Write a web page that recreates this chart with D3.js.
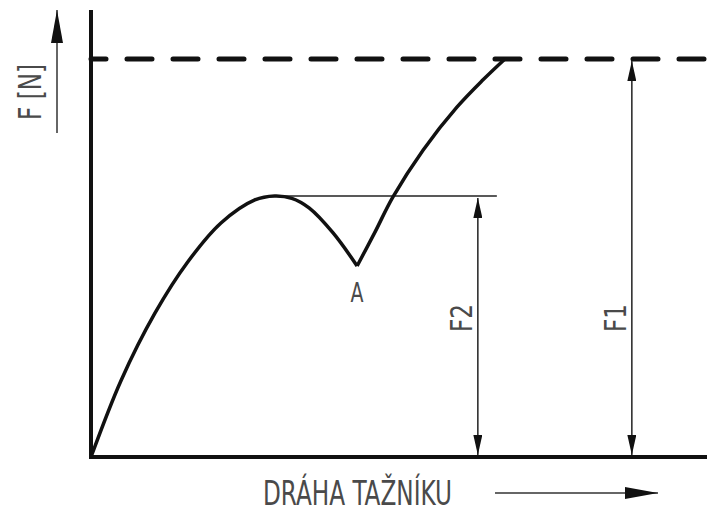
<body style="margin:0;background:#fff"></body>

<script type='text/javascript' src='https://d3js.org/d3.v7.min.js'></script>
<script>
    var width = 707, height = 514;

    // curve: displacement (0..100) vs force (F1 = 100)
    var riseX = [0, 4.9, 10.4, 15.7, 21.1, 26.6, 29.8, 32.6, 35.4, 39.3, 43.2];
    var riseF = [0, 19.3, 36.2, 49.0, 58.8, 64.6, 65.6, 65.0, 62.6, 56.3, 48.0];
    var climbX = [43.2, 46.1, 49.0, 53.9, 59.4, 63.6, 67.2];
    var climbF = [48.0, 56.5, 65.3, 77.1, 87.9, 94.7, 100];

    // force levels and where their dimension lines stand
    var levelNames = ["F2", "F1"];
    var levelF = [65.6, 100];
    var levelX = [62.8, 87.8];
    var peakX = 29.8;
    var pointA = {name: "A", x: 43.2, f: 48.0};
    var xTitle = "DRÁHA TAŽNÍKU";
    var yTitle = "F [N]";

    var x = d3.scaleLinear().domain([0, 100]).range([91, 707]);
    var y = d3.scaleLinear().domain([0, 100]).range([457, 59]);

    var svg = d3.select('body').append('svg').attr('width', width).attr('height', height);
    var font = "'DejaVu Sans Condensed', 'DejaVu Sans', sans-serif";

    // arrowheads
    var defs = svg.append('defs');
    function marker(id, w, h) {
        defs.append('marker').attr('id', id)
            .attr('viewBox', '0 0 ' + w + ' ' + h)
            .attr('refX', w).attr('refY', h / 2)
            .attr('markerWidth', w).attr('markerHeight', h)
            .attr('markerUnits', 'userSpaceOnUse')
            .attr('orient', 'auto-start-reverse')
            .append('path')
            .attr('d', 'M0,0L' + w + ',' + (h / 2) + 'L0,' + h + 'Z')
            .attr('fill', '#111');
    }
    marker('dim', 20, 9);
    marker('big', 33, 12);

    // axes (no ticks, plain thick lines)
    svg.append('line')
        .attr('x1', x(0)).attr('x2', x(0)).attr('y1', 10).attr('y2', y(0) + 2)
        .attr('stroke', '#111').attr('stroke-width', 4);
    svg.append('line')
        .attr('x1', x(0) - 2).attr('x2', x(100)).attr('y1', y(0)).attr('y2', y(0))
        .attr('stroke', '#111').attr('stroke-width', 4);

    // dashed F1 limit
    svg.append('line')
        .attr('x1', x(0)).attr('x2', x(100)).attr('y1', y(100)).attr('y2', y(100))
        .attr('stroke', '#111').attr('stroke-width', 5)
        .attr('stroke-linecap', 'round')
        .attr('stroke-dasharray', '25,21').attr('stroke-dashoffset', 10);

    // F2 extension line from the peak
    svg.append('line')
        .attr('x1', x(peakX)).attr('x2', x(levelX[0]) + 19).attr('y1', y(levelF[0])).attr('y2', y(levelF[0]))
        .attr('stroke', '#222').attr('stroke-width', 1.5);

    // dimension lines with arrows at both ends
    svg.selectAll('.dim').data(levelNames).join('line').attr('class', 'dim')
        .attr('x1', function (d, i) { return x(levelX[i]); })
        .attr('x2', function (d, i) { return x(levelX[i]); })
        .attr('y1', function (d, i) { return y(levelF[i]) + 2; })
        .attr('y2', y(0) - 2)
        .attr('stroke', '#222').attr('stroke-width', 1.5)
        .attr('marker-start', 'url(#dim)').attr('marker-end', 'url(#dim)');

    svg.selectAll('.dimlabel').data(levelNames).join('text').attr('class', 'dimlabel')
        .attr('transform', function (d, i) { return 'translate(' + (x(levelX[i]) - 6) + ',' + 318 + ') rotate(-90)'; })
        .attr('text-anchor', 'middle')
        .attr('font-family', font).attr('font-size', 30)
        .attr('textLength', 28).attr('lengthAdjust', 'spacingAndGlyphs')
        .attr('fill', '#4a4a4a')
        .text(function (d) { return d; });

    // the curve, two branches meeting in the sharp point A
    var line = d3.line()
        .x(function (d) { return x(d[0]); })
        .y(function (d) { return y(d[1]); })
        .curve(d3.curveCatmullRom.alpha(0.5));
    svg.append('path').datum(d3.zip(riseX, riseF))
        .attr('d', line).attr('fill', 'none').attr('stroke', '#111').attr('stroke-width', 3.5)
        .attr('stroke-linejoin', 'round');
    svg.append('path').datum(d3.zip(climbX, climbF))
        .attr('d', line).attr('fill', 'none').attr('stroke', '#111').attr('stroke-width', 3.5)
        .attr('stroke-linejoin', 'round');

    svg.append('text')
        .attr('x', x(pointA.x)).attr('y', y(pointA.f) + 36)
        .attr('text-anchor', 'middle')
        .attr('font-family', font).attr('font-size', 27)
        .attr('textLength', 13).attr('lengthAdjust', 'spacingAndGlyphs')
        .attr('fill', '#4a4a4a')
        .text(pointA.name);

    // y title with arrow
    svg.append('line')
        .attr('x1', 57).attr('x2', 57).attr('y1', 133).attr('y2', 10)
        .attr('stroke', '#333').attr('stroke-width', 1.5)
        .attr('marker-end', 'url(#big)');
    svg.append('text')
        .attr('transform', 'translate(41,92) rotate(-90)')
        .attr('text-anchor', 'middle')
        .attr('font-family', font).attr('font-size', 32)
        .attr('textLength', 56).attr('lengthAdjust', 'spacingAndGlyphs')
        .attr('fill', '#4a4a4a')
        .text(yTitle);

    // x title with arrow
    svg.append('text')
        .attr('x', 263).attr('y', 505)
        .attr('font-family', font).attr('font-size', 34)
        .attr('textLength', 189).attr('lengthAdjust', 'spacingAndGlyphs')
        .attr('fill', '#4a4a4a')
        .text(xTitle);
    svg.append('line')
        .attr('x1', 495).attr('x2', 658).attr('y1', 493).attr('y2', 493)
        .attr('stroke', '#333').attr('stroke-width', 1.5)
        .attr('marker-end', 'url(#big)');
</script>
